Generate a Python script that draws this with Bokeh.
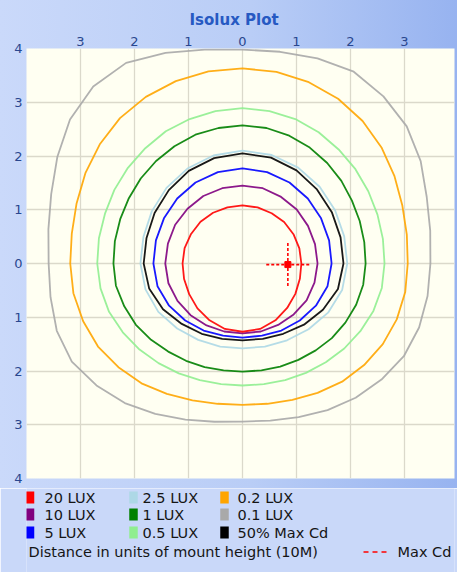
import numpy as np
from bokeh.plotting import figure
from bokeh.models import Range1d, FixedTicker
from bokeh.layouts import column
from bokeh.embed import file_html
from bokeh.resources import INLINE
from bokeh.core.properties import value

# ---------------- data ----------------
# Each isolux line is given as radii (units of mount height) around the origin,
# at the listed angles (degrees from +x, counter-clockwise).
angles_15 = [0, 15, 30, 45, 60, 75, 90, 105, 120, 135, 150, 165,
             180, 195, 210, 225, 240, 255, 270, 285, 300, 315, 330, 345]
angles_10 = [0, 10, 20, 30, 40, 50, 60, 70, 80, 90, 100, 110,
             120, 130, 140, 150, 160, 170, 180, 190, 200, 210, 220, 230,
             240, 250, 260, 270, 280, 290, 300, 310, 320, 330, 340, 350]

levels = ["20 LUX", "10 LUX", "5 LUX", "2.5 LUX", "1 LUX", "0.5 LUX",
          "0.2 LUX", "0.1 LUX", "50% Max Cd"]
level_colors = ["#ff0000", "#800080", "#0000ff", "#add8e6", "#008000",
                "#90ee90", "#ffa500", "#a9a9a9", "#000000"]

r_20 = [1.09, 1.09, 1.09, 1.09, 1.08, 1.08, 1.08, 1.08, 1.09, 1.10, 1.10, 1.11,
        1.11, 1.12, 1.14, 1.18, 1.22, 1.26, 1.27, 1.26, 1.22, 1.17, 1.13, 1.10]
r_10 = [1.39, 1.39, 1.40, 1.42, 1.43, 1.45, 1.45, 1.45, 1.45, 1.44, 1.44, 1.43,
        1.43, 1.42, 1.39, 1.36, 1.33, 1.31, 1.30, 1.31, 1.32, 1.34, 1.37, 1.38]
r_5 = [1.65, 1.66, 1.68, 1.71, 1.74, 1.76, 1.77, 1.76, 1.74, 1.71, 1.68, 1.66,
       1.65, 1.63, 1.57, 1.50, 1.44, 1.39, 1.38, 1.39, 1.44, 1.50, 1.57, 1.63]
r_2_5 = [1.94, 1.95, 1.98, 2.02, 2.06, 2.09, 2.10, 2.08, 2.04, 1.99, 1.94, 1.90,
         1.89, 1.86, 1.80, 1.71, 1.64, 1.60, 1.58, 1.60, 1.65, 1.73, 1.83, 1.91]
r_50 = [1.87, 1.88, 1.91, 1.95, 2.00, 2.04, 2.05, 2.03, 1.99, 1.93, 1.88, 1.84,
        1.83, 1.79, 1.70, 1.59, 1.51, 1.45, 1.43, 1.45, 1.51, 1.61, 1.72, 1.83]
r_1 = [2.28, 2.29, 2.31, 2.34, 2.39, 2.44, 2.49, 2.53, 2.56, 2.57, 2.56, 2.55,
       2.52, 2.49, 2.46, 2.43, 2.41, 2.40, 2.39, 2.38, 2.33, 2.28, 2.21, 2.14,
       2.09, 2.05, 2.02, 2.01, 2.02, 2.04, 2.07, 2.11, 2.16, 2.20, 2.24, 2.27]
r_0_5 = [2.63, 2.64, 2.66, 2.69, 2.73, 2.77, 2.82, 2.86, 2.88, 2.89, 2.88, 2.86,
         2.84, 2.80, 2.77, 2.74, 2.71, 2.70, 2.69, 2.67, 2.63, 2.56, 2.49, 2.42,
         2.36, 2.31, 2.28, 2.27, 2.28, 2.31, 2.35, 2.40, 2.46, 2.52, 2.58, 2.62]
r_0_2 = [3.06, 3.09, 3.15, 3.25, 3.36, 3.46, 3.54, 3.59, 3.62, 3.63, 3.63, 3.61,
         3.58, 3.53, 3.45, 3.36, 3.27, 3.21, 3.19, 3.18, 3.14, 3.09, 3.00, 2.91,
         2.80, 2.71, 2.65, 2.63, 2.65, 2.70, 2.78, 2.87, 2.94, 3.00, 3.04, 3.06]
r_0_1 = [3.48, 3.53, 3.63, 3.81, 3.97, 4.06, 4.12, 4.06, 4.00, 3.98, 4.04, 4.17,
         4.31, 4.30, 4.17, 3.96, 3.77, 3.65, 3.59, 3.61, 3.66, 3.65, 3.53, 3.39,
         3.23, 3.09, 2.99, 2.94, 2.97, 3.04, 3.15, 3.26, 3.36, 3.45, 3.48, 3.48]

level_radii = [r_20, r_10, r_5, r_2_5, r_1, r_0_5, r_0_2, r_0_1, r_50]
level_angles = [angles_15, angles_15, angles_15, angles_15, angles_10,
                angles_10, angles_10, angles_10, angles_15]

max_cd_x = 0.84
max_cd_y = -0.02

x_ticks = [-3, -2, -1, 0, 1, 2, 3]
x_tick_labels = ["3", "2", "1", "0", "1", "2", "3"]
y_ticks = [-4, -3, -2, -1, 0, 1, 2, 3, 4]
y_tick_labels = ["4", "3", "2", "1", "0", "1", "2", "3", "4"]

title_text = "Isolux Plot"
footnote_text = "Distance in units of mount height (10M)"
max_cd_text = "Max Cd"

# ---------------- main plot ----------------
FONT = "DejaVu Sans"
TICK_COLOR = "#29478f"
LEFT, FRAME_W, RIGHT = 26, 428, 3
UNIT = 54.0

p = figure(frame_width=FRAME_W, frame_height=430,
           x_range=Range1d(-4, -4 + FRAME_W / UNIT), y_range=Range1d(-4, 4),
           x_axis_location="above", y_axis_location="left",
           output_backend="svg", toolbar_location=None,
           min_border_left=LEFT, min_border_right=RIGHT,
           min_border_top=48, min_border_bottom=10,
           title=title_text)
p.title.align = "left"
p.title.offset = 163
p.title.text_font = FONT
p.title.text_font_size = "15px"
p.title.text_font_style = "bold"
p.title.text_color = "#2659c2"
p.title.standoff = 9

p.background_fill_color = "#fffff2"
p.border_fill_color = None
p.outline_line_color = None
p.styles = {"background": "linear-gradient(to right, #cad9fa 0%, #b9cdf6 55%, #97b3f0 100%)"}

p.xaxis.ticker = FixedTicker(ticks=x_ticks)
p.yaxis.ticker = FixedTicker(ticks=y_ticks)
p.xaxis.major_label_overrides = {t: l for t, l in zip(x_ticks, x_tick_labels)}
p.yaxis.major_label_overrides = {t: l for t, l in zip(y_ticks, y_tick_labels)}
for ax in (p.xaxis, p.yaxis):
    ax.axis_line_color = None
    ax.major_tick_line_color = None
    ax.minor_tick_line_color = None
    ax.major_tick_out = 0
    ax.major_tick_in = 0
    ax.major_label_text_font = FONT
    ax.major_label_text_font_size = "13px"
    ax.major_label_text_color = TICK_COLOR
p.xaxis.major_label_standoff = 3
p.yaxis.major_label_standoff = 4

p.xgrid.ticker = FixedTicker(ticks=x_ticks)
p.ygrid.ticker = FixedTicker(ticks=y_ticks)
p.grid.grid_line_color = "#dbd9cb"
p.grid.grid_line_width = 1.3

draw_order = [7, 6, 5, 4, 3, 2, 1, 0, 8]
for i in draw_order:
    th = np.deg2rad(np.array(level_angles[i] + [level_angles[i][0]], dtype=float))
    r = np.array(level_radii[i] + [level_radii[i][0]], dtype=float)
    p.line(r * np.cos(th), r * np.sin(th), line_color=level_colors[i],
           line_width=1.8, line_alpha=0.9, line_join="round")

# Max Cd marker
arm = 0.4
p.segment(x0=[max_cd_x - arm, max_cd_x], y0=[max_cd_y, max_cd_y - arm],
          x1=[max_cd_x + arm, max_cd_x], y1=[max_cd_y, max_cd_y + arm],
          line_color="#ff0000", line_width=1.6, line_dash="3 2")
p.scatter([max_cd_x], [max_cd_y], marker="square", size=6,
          fill_color="#ff0000", line_color="#ff0000")

# ---------------- legend strip (x in page pixels, y in pixels from its top) ----------------
LEG_H = 84
LEG_BG = "#c9d8f9"
lg = figure(frame_width=FRAME_W, frame_height=LEG_H,
            x_range=Range1d(LEFT, LEFT + FRAME_W), y_range=Range1d(LEG_H, 0),
            x_axis_location=None, y_axis_location=None,
            output_backend="svg", toolbar_location=None,
            min_border_left=LEFT, min_border_right=RIGHT,
            min_border_top=0, min_border_bottom=0)
lg.grid.visible = False
lg.outline_line_color = None
lg.background_fill_color = LEG_BG
lg.border_fill_color = LEG_BG

col_sq_x = [29.5, 133, 224]
col_tx_x = [44, 142, 237]
row_y = [9, 26, 44]
sq_x = [col_sq_x[i // 3] for i in range(len(levels))]
tx_x = [col_tx_x[i // 3] for i in range(len(levels))]
it_y = [row_y[i % 3] for i in range(len(levels))]

lg.rect(x=sq_x, y=it_y, width=8.5, height=12, width_units="screen", height_units="screen",
        fill_color=level_colors, line_color=None)
lg.text(x=tx_x, y=it_y, text=levels, text_baseline="middle", text_align="left",
        text_font=value(FONT), text_font_size="14.5px", text_color="#151515")

foot_y = 63.5
lg.text(x=[28], y=[foot_y], text=[footnote_text], text_baseline="middle",
        text_font=value(FONT), text_font_size="14.5px", text_color="#151515")
lg.segment(x0=[363], y0=[foot_y], x1=[387], y1=[foot_y], line_color="#ff0000",
           line_width=1.5, line_dash="5 4")
lg.text(x=[397], y=[foot_y], text=[max_cd_text], text_baseline="middle",
        text_font=value(FONT), text_font_size="14.5px", text_color="#151515")

layout = column(p, lg, spacing=0)
open("out.html", "w").write(file_html(layout, INLINE))
